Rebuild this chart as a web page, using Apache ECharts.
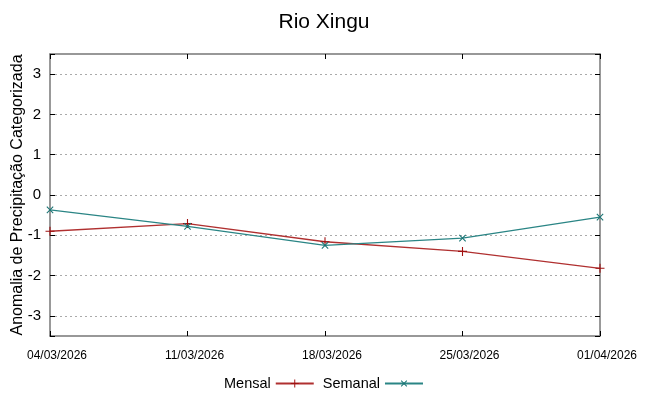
<!DOCTYPE html>
<html><head><meta charset="utf-8">
<script src="https://cdn.jsdelivr.net/npm/echarts@6/dist/echarts.min.js"></script>
<style>html,body{margin:0;padding:0;background:#fff}#c{width:648px;height:396px}</style>
</head><body><div id="c"></div>
<script>
const categories = ['04/03/2026','11/03/2026','18/03/2026','25/03/2026','01/04/2026'];
const mensal = [-0.90, -0.71, -1.16, -1.40, -1.82];
const semanal = [-0.37, -0.78, -1.25, -1.07, -0.55];
const yTicks = [-3,-2,-1,0,1,2,3];

const plus = 'path://M4.4,0H5.6V10H4.4ZM0,4.4H10V5.6H0Z';
const font = 'Liberation Sans, Arial, sans-serif';
const chart = echarts.init(document.getElementById('c'), null, {renderer:'canvas'});
const yCommon = {
  type:'value', min:-3.5, max:3.5, splitNumber:7,
  axisLine:{show:true, onZero:false, lineStyle:{color:'#777', width:1.5}},
  axisTick:{show:true, inside:true, length:5, lineStyle:{color:'#000'}},
};
chart.setOption({
  animation:false,
  title:{text:'Rio Xingu', left:'center', top:7, textStyle:{fontFamily:font, fontSize:21, fontWeight:'normal', color:'#000'}},
  grid:{left:50, right:48, top:54, bottom:60, show:false, outerBoundsMode:'none', containLabel:false},
  legend:{bottom:0, left:'center', align:'right', itemWidth:38, itemHeight:10, itemGap:8,
    textStyle:{fontFamily:font, fontSize:14.5, color:'#000'},
    data:['Mensal','Semanal']},
  xAxis:[
    {type:'category', data:categories, boundaryGap:false, position:'bottom',
     axisLine:{onZero:false, lineStyle:{color:'#777', width:1.5}},
     axisTick:{inside:true, length:5, alignWithLabel:true, lineStyle:{color:'#000'}},
     axisLabel:{fontFamily:font, fontSize:12, color:'#000', margin:14, padding:[0,0,0,14]},
     splitLine:{show:false}},
    {type:'category', data:categories, boundaryGap:false, position:'top',
     axisLine:{onZero:false, lineStyle:{color:'#777', width:1.5}},
     axisTick:{inside:true, length:5, lineStyle:{color:'#000'}},
     axisLabel:{show:false}, splitLine:{show:false}}
  ],
  yAxis:[
    Object.assign({}, yCommon, {position:'left',
      name:'Anomalia de Precipitação Categorizada', nameLocation:'middle', nameGap:24, nameMoveOverlap:false,
      nameTextStyle:{fontFamily:font, fontSize:16, color:'#000'},
      axisLabel:{fontFamily:font, fontSize:15, color:'#000', margin:9,
        formatter:v => yTicks.indexOf(Math.round(v*100)/100) >= 0 ? String(v) : ''},
      splitLine:{show:true, showMinLine:false, showMaxLine:false, lineStyle:{color:'#aaa', type:[2,3], width:1}}}),
    Object.assign({}, yCommon, {position:'right', axisLabel:{show:false}, splitLine:{show:false}})
  ],
  series:[
    {name:'Mensal', type:'line', data:mensal, symbol:plus, symbolSize:9,
     lineStyle:{color:'#b03030', width:1.3}, itemStyle:{color:'#a01010'}, z:3},
    {name:'Semanal', type:'line', data:semanal, symbol:plus, symbolRotate:45, symbolSize:9,
     lineStyle:{color:'#2a8585', width:1.3}, itemStyle:{color:'#1a7575'}, z:4}
  ]
});
</script></body></html>
